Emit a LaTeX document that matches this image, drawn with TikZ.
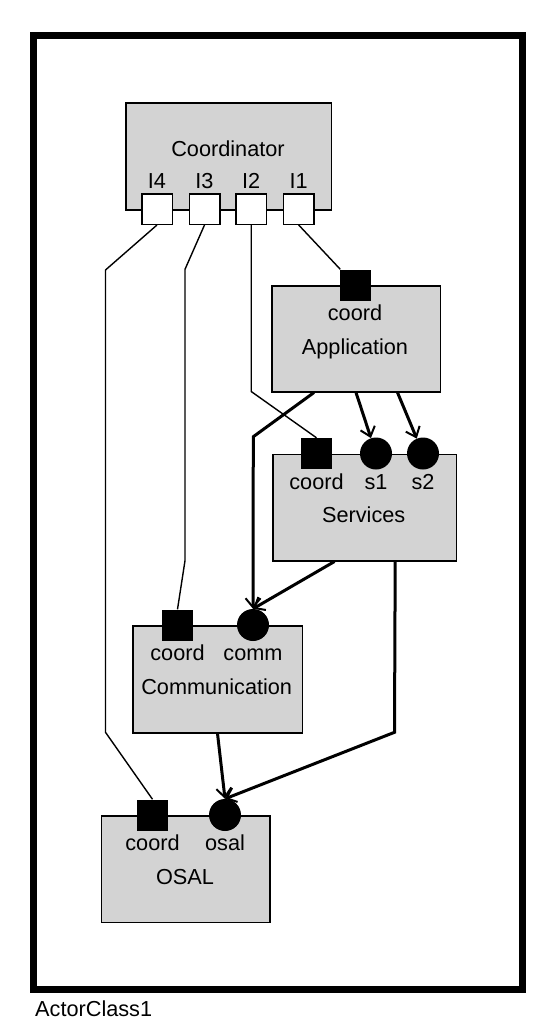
\documentclass[tikz,border=0pt]{standalone}
\usepackage{fontspec}
\setmainfont{Liberation Sans}
\usetikzlibrary{arrows.meta,calc}
\definecolor{compfill}{RGB}{211,211,211}
\begin{document}
\begin{tikzpicture}[x=1pt,y=-1pt,
  comp/.style={draw=black, fill=compfill, line width=1.5pt, rectangle, anchor=north west, inner sep=0pt},
  extport/.style={draw=black, fill=white, line width=1.5pt, minimum size=30.5pt, inner sep=0pt},
  sqport/.style={fill=black, minimum size=31pt, inner sep=0pt},
  ciport/.style={circle, fill=black, minimum size=32pt, inner sep=0pt},
  lbl/.style={font=\fontsize{21.7}{26}\selectfont, anchor=base, inner sep=0pt},
  thinline/.style={line width=1.4pt},
  thickline/.style={line width=3pt, -{Straight Barb[length=9pt,width=15pt,line width=2pt]}},
]
\useasboundingbox (0,0) rectangle (555,1036);
% frame
\draw[line width=7pt] (33,35) rectangle (522.7,989.2);
\node[lbl, anchor=base west] (actorlbl) at (35,1016.5) {ActorClass1};

% components
\node[comp, minimum width=205.5pt, minimum height=107pt] (coordinator) at (125,102) {};
\node[comp, minimum width=168.5pt, minimum height=106pt] (app) at (271,285) {};
\node[comp, minimum width=183.5pt, minimum height=106.5pt] (serv) at (272,453.5) {};
\node[comp, minimum width=169.5pt, minimum height=107pt] (commbox) at (132,625) {};
\node[comp, minimum width=168.5pt, minimum height=106.5pt] (osalbox) at (100.5,815) {};

% names
\node[lbl] (coordname) at (228,156) {Coordinator};
\node[lbl] (appname) at (355,354) {Application};
\node[lbl] (servname) at (363.7,522.5) {Services};
\node[lbl] (commname) at (216.7,694) {Communication};
\node[lbl] (osalname) at (185,884) {OSAL};

% coordinator ports
\node[extport] (I4) at (157,209) {};
\node[extport] (I3) at (204.5,209) {};
\node[extport] (I2) at (251.2,209) {};
\node[extport] (I1) at (298.7,209) {};
\node[lbl] (I4l) at (157,188.3) {I4};
\node[lbl] (I3l) at (204.5,188.3) {I3};
\node[lbl] (I2l) at (251.2,188.3) {I2};
\node[lbl] (I1l) at (298.7,188.3) {I1};

% application ports
\node[sqport] (appcoord) at (355,285) {};
\node[lbl] (appcoordl) at (355,320.7) {coord};

% services ports
\node[sqport] (servcoord) at (316.5,453.5) {};
\node[ciport] (s1) at (376,453.5) {};
\node[ciport] (s2) at (423,453.5) {};
\node[lbl] (servcoordl) at (316.5,489) {coord};
\node[lbl] (s1l) at (376,489) {s1};
\node[lbl] (s2l) at (423,489) {s2};

% communication ports
\node[sqport] (commcoord) at (177.5,625) {};
\node[ciport] (comm) at (253,625) {};
\node[lbl] (commcoordl) at (177.5,660.5) {coord};
\node[lbl] (comml) at (253,660.5) {comm};

% osal ports
\node[sqport] (osalcoord) at (152.5,815) {};
\node[ciport] (osal) at (225,815) {};
\node[lbl] (osalcoordl) at (152.5,850) {coord};
\node[lbl] (osall) at (225,850) {osal};

% bend points
\coordinate (b4a) at (105.5,270);
\coordinate (b4b) at (105.5,732.3);
\coordinate (b3a) at (185,269.3);
\coordinate (b3b) at (185,560.7);
\coordinate (b2) at (251.2,391.5);
\coordinate (bac) at (253.3,436.7);
\coordinate (bso) at (394.5,732.3);

% thin coordinator links
\draw[thinline] (I1.south) -- (appcoord);
\draw[thinline] (I2.south) -- (b2) -- (servcoord.north);
\draw[thinline] (I3.south) -- (b3a) -- (b3b) -- (commcoord.north);
\draw[thinline] (I4.south) -- (b4a) -- (b4b) -- (osalcoord.north);

% thick data links
\draw[thickline] (app.south) -- (s1);
\draw[thickline] ($(app.south)+(41.5,0)$) -- (s2);
\draw[thickline] ($(app.south)+(-42,0)$) -- (bac) -- (comm.north);
\draw[thickline] ($(serv.south)+(-30,0)$) -- (comm.north);
\draw[thickline] ($(serv.south)+(30.7,0)$) -- (bso) -- (osal.north);
\draw[thickline] (commbox.south) -- (osal.north);
\end{tikzpicture}
\end{document}
